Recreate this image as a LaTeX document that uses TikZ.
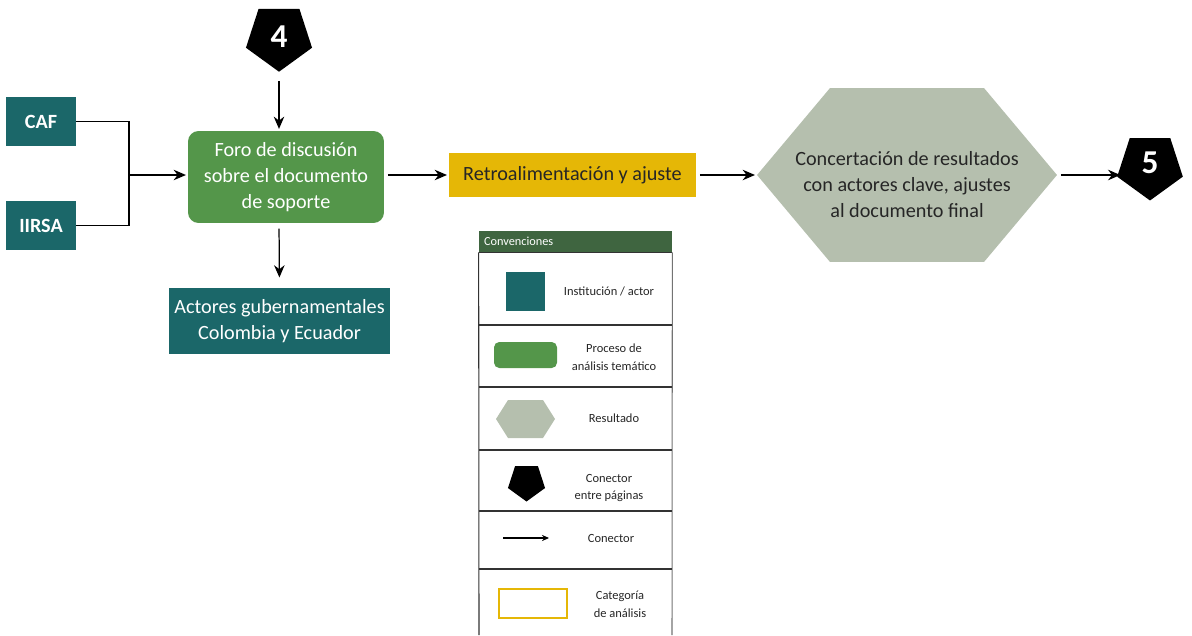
\documentclass[tikz,border=0pt]{standalone}
\usepackage{fontspec}
\setmainfont{Carlito}
\usepackage{xcolor}
\usepackage{tikz}
\usetikzlibrary{shapes,arrows.meta,positioning}

\definecolor{actorteal}{RGB}{27,103,105}
\definecolor{procgreen}{RGB}{84,150,74}
\definecolor{catyellow}{RGB}{229,183,6}
\definecolor{resgrey}{RGB}{181,191,174}
\definecolor{headgreen}{RGB}{63,101,64}
\definecolor{textdark}{RGB}{38,38,38}

\begin{document}
\begin{tikzpicture}[x=0.02cm, y=-0.02cm,
    actor/.style={rectangle, fill=actorteal, text=white, align=center, inner sep=0pt, minimum width=1.4cm, minimum height=0.98cm, font=\fontsize{11.5}{14.8}\selectfont},
    process/.style={rectangle, fill=procgreen, text=white, align=center, rounded corners=6pt, inner sep=0pt, minimum width=3.92cm, minimum height=1.84cm, font=\fontsize{11.5}{14.8}\selectfont},
    category/.style={rectangle, fill=catyellow, text=textdark, align=center, inner sep=0pt, minimum width=4.94cm, minimum height=0.9cm, font=\fontsize{11.5}{14.8}\selectfont},
    result/.style={rectangle, inner sep=0pt, minimum width=6cm, minimum height=3.48cm,
        path picture={\fill[resgrey] (path picture bounding box.west)
            -- ([xshift=#1]path picture bounding box.north west)
            -- ([xshift=-#1]path picture bounding box.north east)
            -- (path picture bounding box.east)
            -- ([xshift=-#1]path picture bounding box.south east)
            -- ([xshift=#1]path picture bounding box.south west) -- cycle;}},
    result/.default=1.46cm,
    resulttext/.style={align=center, text=textdark, font=\fontsize{11.5}{14.8}\selectfont},
    pager/.style={regular polygon, regular polygon sides=5, shape border rotate=180, fill=black, text=white, inner sep=0pt, minimum size=1.39cm, font=\bfseries\fontsize{19}{19}\selectfont},
    keytext/.style={align=center, text=textdark, font=\fontsize{7.1}{10}\selectfont},
    arrow/.style={line width=0.7pt, -{Stealth[length=7pt,width=6pt]}, shorten <=2pt, shorten >=1pt},
    link/.style={line width=0.7pt},
    tablerule/.style={line width=0.6pt, draw=black!80}
]
\useasboundingbox (0,0) rectangle (1192,635);

% Page connector in
\node [pager] (pagefour) at (279,37) {4};

% Institutions
\node [actor, font=\bfseries\fontsize{11.5}{14}\selectfont] (caf) at (41,121.5) {CAF};
\node [actor, font=\bfseries\fontsize{11.5}{14}\selectfont] (iirsa) at (41,225.5) {IIRSA};
\coordinate (join) at (129,175);

% Process
\node [process] (foro) at (286,177) {Foro de discusión\\sobre el documento\\de soporte};
\node [actor, minimum width=4.42cm, minimum height=1.34cm] (actores) at (279.5,321) {Actores gubernamentales\\Colombia y Ecuador};

% Category and result
\node [category] (ajuste) at (572.5,175) {Retroalimentación y ajuste};
\node [result] (concert) at (907,175) {};
\node [resulttext] (concertlabel) at (907,185) {Concertación de resultados\\con actores clave, ajustes\\al documento final};

% Page connector out
\node [pager, minimum size=1.38cm] (pagefive) at (1150,166) {\raisebox{3.4pt}{5}};

% Arrows
\draw [link] (caf.east) -| (join);
\draw [link] (iirsa.east) -| (join);
\draw [arrow, shorten <=0pt] (join) -- (foro.west |- join);
\draw [arrow, shorten <=5pt] (pagefour.south) -- (pagefour.south |- foro.north);
\draw [arrow, shorten <=3pt, shorten >=5.5pt] (pagefour.south |- foro.south) -- (actores.north);
\draw [arrow] (foro.east |- ajuste.west) -- (ajuste.west);
\draw [arrow] (ajuste.east) -- (concert.west);
\draw [arrow, shorten >=0pt] (concert.east) -- (concert.east -| pagefive.west);

% Legend
\node [rectangle, fill=headgreen, text=white, inner xsep=0.1cm, inner ysep=0pt, minimum height=0.42cm, text width=3.66cm, align=left, font=\fontsize{7}{8}\selectfont] (conv) at (575.5,241.5) {Convenciones};
\draw [tablerule] (conv.south west) -- (conv.south east);
\draw [tablerule] (conv.south west) -- (479,635);
\draw [tablerule, draw=black!55] (conv.south east) -- (672,635);
\foreach \y in {325,387,450,511,569}
    \draw [tablerule] (479,\y) -- (672,\y);

\node [actor, minimum width=0.78cm, minimum height=0.78cm] (keyactor) at (525.5,291.5) {};
\node [keytext] (keyactortext) at (609,291) {Institución / actor};

\node [process, minimum width=1.26cm, minimum height=0.52cm, rounded corners=3pt] (keyproc) at (525.5,355) {};
\node [keytext] (keyproctext) at (614,357) {Proceso de\\análisis temático};

\node [result=0.24cm, minimum width=1.18cm, minimum height=0.76cm] (keyres) at (525.5,419) {};
\node [keytext] (keyrestext) at (614,418) {Resultado};

\node [pager, minimum size=0.78cm] (keypager) at (526.5,482) {};
\node [keytext] (keypagertext) at (609,488) {Conector\\entre páginas};

\coordinate (keyarrowstart) at (503,538);
\coordinate (keyarrowend) at (549,538);
\draw [line width=0.6pt, -{Stealth[length=4pt,width=3.5pt]}] (keyarrowstart) -- (keyarrowend);
\node [keytext] (keyarrowtext) at (611,538) {Conector};

\node [rectangle, draw=catyellow, line width=0.6pt, minimum width=1.36cm, minimum height=0.58cm] (keycat) at (533,603.5) {};
\node [keytext] (keycattext) at (620,604) {Categoría\\de análisis};

\end{tikzpicture}
\end{document}
